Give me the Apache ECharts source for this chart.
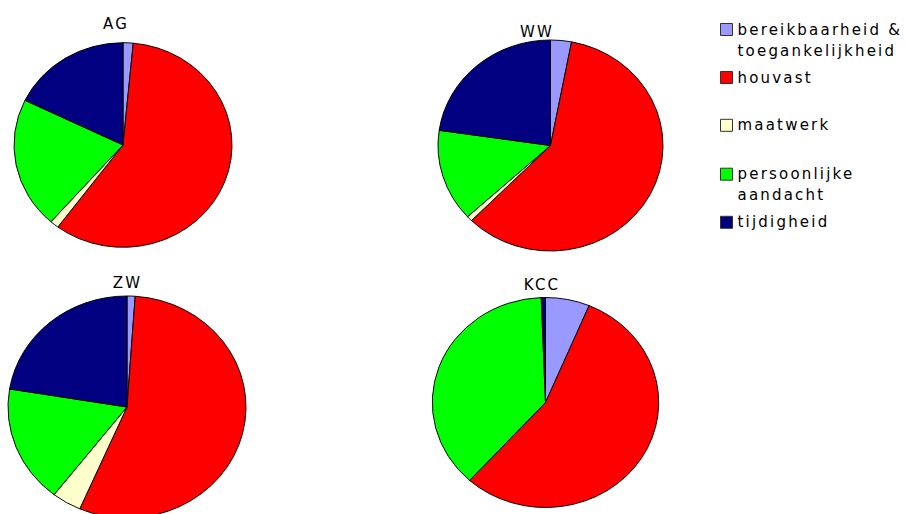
<!DOCTYPE html>
<html><head><meta charset="utf-8">
<script src="https://cdn.jsdelivr.net/npm/echarts@6/dist/echarts.min.js"></script>
<style>
html,body{margin:0;padding:0;background:#fff}
#wrap{position:relative;width:906px;height:514px;overflow:hidden;background:#fff}
#chart{position:absolute;left:0;top:0;width:906px;height:514px}
.pie{position:absolute}
#wrap text{letter-spacing:2.2px}
</style>
</head><body><div id="wrap"><div id="chart"></div></div>
<script>
const categories = ['bereikbaarheid & toegankelijkheid','houvast','maatwerk','persoonlijke aandacht','tijdigheid'];
const legendLabels = ['bereikbaarheid &\ntoegankelijkheid','houvast','maatwerk','persoonlijke\naandacht','tijdigheid'];
const colors = ['#9999FF','#FF0000','#FFFFCC','#00FF00','#000080'];
const titles = ['AG','WW','ZW','KCC'];
const valuesAG  = [1.5, 58.7, 1.3, 20.7, 17.8];
const valuesWW  = [3.0, 59.4, 0.8, 14.1, 22.7];
const valuesZW  = [1.1, 55.4, 4.0, 17.1, 22.4];
const valuesKCC = [6.3, 55.4, 0.0, 37.7, 0.6];

const seriesValues = [valuesAG, valuesWW, valuesZW, valuesKCC];
const pieCenters = [[123,145],[550,145],[127.2,406.7],[545.8,402.8]];
const pieRadiiX = [109, 112.5, 119, 113.2];
const pieRadiiY = [102.3, 105.5, 111, 105];
const titlePos = [[116,24],[537,31.5],[127.5,283],[542,284.5]];
const legendIconCenters = [29.5, 77.5, 125.3, 174.2, 222.3];
const FONT = 'DejaVu Sans';

const wrap = document.getElementById('wrap');
seriesValues.forEach((vals, k) => {
  const rx = pieRadiiX[k], ry = pieRadiiY[k];
  const W = Math.ceil(2*rx + 6);
  const d = document.createElement('div');
  d.className = 'pie';
  d.style.width = W + 'px'; d.style.height = W + 'px';
  d.style.left = (pieCenters[k][0] - W/2) + 'px';
  d.style.top = (pieCenters[k][1] - W/2) + 'px';
  d.style.transform = 'scaleY(' + (ry/rx) + ')';
  d.style.transformOrigin = '50% 50%';
  wrap.insertBefore(d, document.getElementById('chart'));
  const c = echarts.init(d, null, {renderer:'svg', width:W, height:W});
  c.setOption({
    animation:false,
    series:[{
      type:'pie', name:titles[k],
      center:['50%','50%'], radius:rx,
      startAngle:90, clockwise:true, avoidLabelOverlap:false,
      label:{show:false}, labelLine:{show:false},
      emphasis:{disabled:true}, silent:true,
      itemStyle:{borderColor:'#000', borderWidth:1},
      data: categories.map((n,i)=>({name:n, value:vals[i], itemStyle:{color:colors[i]}}))
    }]
  });
});

const chart = echarts.init(document.getElementById('chart'), null, {renderer:'svg', width:906, height:514});
const LH = 21;
const legends = categories.map((n,i)=>{
  const twoLine = legendLabels[i].indexOf('\n') >= 0;
  return {
    data:[n],
    left:720,
    top: legendIconCenters[i] - (twoLine ? 1.5*LH : LH/2),
    orient:'vertical', padding:0,
    itemWidth:12, itemHeight:12, icon:'rect', selectedMode:false,
    itemStyle:{color:colors[i], borderColor:'#333', borderWidth:1, opacity:1},
    formatter: () => (twoLine ? '\n' : '') + legendLabels[i],
    textStyle:{fontFamily:FONT, fontSize:15, color:'#000', lineHeight:LH}
  };
});
// off-screen carrier series so the legends have names and colours
const carrier = {
  type:'pie', radius:1, center:[-200,-200], silent:true,
  label:{show:false}, labelLine:{show:false}, itemStyle:{borderWidth:0},
  data: categories.map((n,i)=>({name:n, value:1, itemStyle:{color:colors[i]}}))
};
const graphics = titles.map((t,k)=>({
  type:'text', x:titlePos[k][0], y:titlePos[k][1], silent:true,
  style:{text:t, font:'15px "DejaVu Sans"', fill:'#000', align:'center', verticalAlign:'middle'}
}));
chart.setOption({
  animation:false,
  legend: legends,
  series:[carrier],
  graphic: graphics
});
</script>
</body></html>
